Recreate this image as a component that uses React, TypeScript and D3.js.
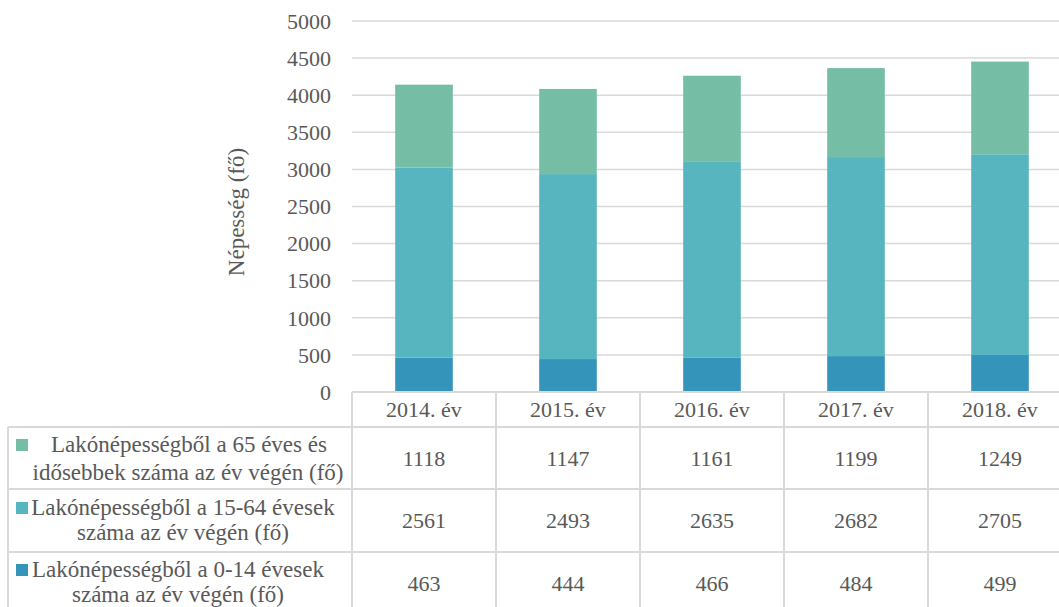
import React from "react";
import * as d3 from "d3";

const years = ["2014. év", "2015. év", "2016. év", "2017. év", "2018. év"];
const age0_14 = [463, 444, 466, 484, 499];
const age15_64 = [2561, 2493, 2635, 2682, 2705];
const age65 = [1118, 1147, 1161, 1199, 1249];
const yTicks = [0, 500, 1000, 1500, 2000, 2500, 3000, 3500, 4000, 4500, 5000];

const seriesNames = [
  ["Lakónépességből a 65 éves és", "idősebbek száma az év végén (fő)"],
  ["Lakónépességből a 15-64 évesek", "száma az év végén (fő)"],
  ["Lakónépességből a 0-14 évesek", "száma az év végén (fő)"],
];
const colors = ["#76BDA6", "#57B5BF", "#3494BA"];

export default function App() {
  const W = 1059, H = 607;
  const left = 352, step = 144;
  const x = d3.scaleBand<string>().domain(years).range([left, left + step * years.length]).paddingInner(0.6).paddingOuter(0.3);
  const y = d3.scaleLinear().domain([0, 5000]).range([392, 21]);
  const fs = { fontFamily: "Liberation Serif" };
  const txt = "#595959";
  const grid = "#D9D9D9";

  const rows = years.map((yr, i) => ({ yr, a: age0_14[i], b: age15_64[i], c: age65[i] }));
  const stack = d3.stack<any>().keys(["a", "b", "c"])(rows);
  const stackColors = [colors[2], colors[1], colors[0]];

  const tableRowsTop = [427, 489, 552];
  const headerTop = 392;
  const valueRows = [age65, age15_64, age0_14];
  const valueBaselines = [466, 528, 591];
  const labelCenters = [188, 183, 178];
  const labelCenters1 = [189, 183, 178];
  const labelBase1 = [452, 515, 577];
  const labelBase2 = [480, 540, 602];
  const colEdges = years.map((_, i) => left + i * step);

  return (
    <svg width={W} height={H} style={{ position: "absolute", left: 0, top: 0, background: "#fff" }}>
      {yTicks.map((t) => (
        <g key={t}>
          {t > 0 && <line x1={left} x2={W} y1={y(t)} y2={y(t)} stroke={grid} strokeWidth={1.5} />}
          <text x={331} y={y(t)} dy="0.35em" textAnchor="end" fontSize={22} fill={txt} style={fs}>{t}</text>
        </g>
      ))}
      <text transform={`translate(244,212) rotate(-90)`} textAnchor="middle" fontSize={23} fill={txt} style={fs}>Népesség (fő)</text>
      {stack.map((s, si) =>
        s.map((d: any, i: number) => (
          <rect key={si + "-" + i} x={x(years[i])} width={x.bandwidth()} y={y(d[1])} height={y(d[0]) - y(d[1])} fill={stackColors[si]} />
        ))
      )}
      <line x1={left} x2={W} y1={headerTop} y2={headerTop} stroke={grid} strokeWidth={2} />
      {tableRowsTop.map((ty) => (
        <line key={ty} x1={8} x2={W} y1={ty} y2={ty} stroke={grid} strokeWidth={2} />
      ))}
      <line x1={8} x2={8} y1={427} y2={H} stroke={grid} strokeWidth={2} />
      {colEdges.map((cx) => (
        <line key={cx} x1={cx} x2={cx} y1={headerTop} y2={H} stroke={grid} strokeWidth={2} />
      ))}
      {years.map((yr) => (
        <text key={yr} x={(x(yr) as number) + x.bandwidth() / 2} y={417} textAnchor="middle" fontSize={22} fill={txt} style={fs}>{yr}</text>
      ))}
      {valueRows.map((vals, ri) =>
        vals.map((v, i) => (
          <text key={ri + "-" + i} x={(x(years[i]) as number) + x.bandwidth() / 2} y={valueBaselines[ri]} textAnchor="middle" fontSize={22} fill={txt} style={fs}>{v}</text>
        ))
      )}
      {seriesNames.map((lines, ri) => (
        <g key={ri}>
          <rect x={16} y={labelBase1[ri] - 13} width={12} height={12} fill={colors[ri]} />
          <text x={labelCenters1[ri]} y={labelBase1[ri]} textAnchor="middle" fontSize={23} fill={txt} style={fs}>{lines[0]}</text>
          <text x={labelCenters[ri]} y={labelBase2[ri]} textAnchor="middle" fontSize={23} fill={txt} style={fs}>{lines[1]}</text>
        </g>
      ))}
    </svg>
  );
}
